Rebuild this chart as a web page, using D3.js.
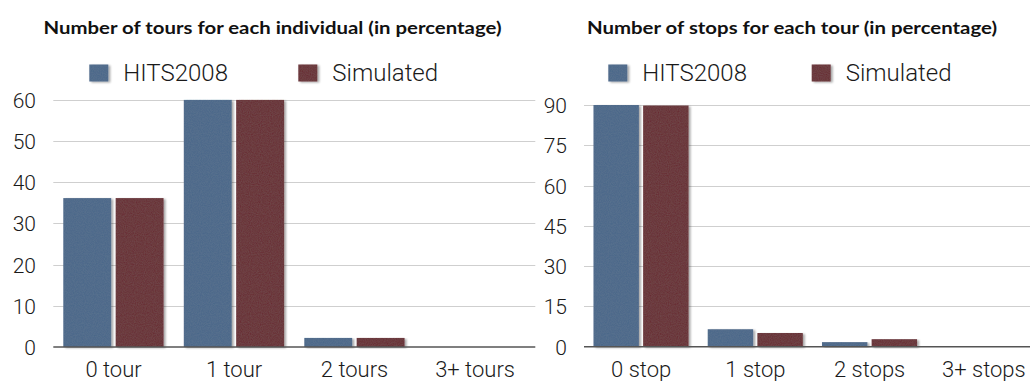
<!DOCTYPE html>
<html>
<head>
<meta charset="utf-8">
<script src="https://cdn.jsdelivr.net/npm/d3@7"></script>
<style>
  html, body { margin: 0; padding: 0; background: #fff; }
  svg { display: block; }
  .tick-label, .cat-label, .legend-label { font-family: Roboto, "Liberation Sans", sans-serif; font-weight: 300; fill: #1a1a1a; }
  .title { font-family: Lato, "Open Sans", sans-serif; font-weight: 700; fill: #111; }
</style>
</head>
<body>
<svg id="chart" width="1030" height="381"></svg>
<script>
// Series names and colours
const seriesNames = ["HITS2008", "Simulated"];
const seriesColors = ["#4a6689", "#682a32"];

// Tours per individual (%)
const tourCategories = ["0 tour", "1 tour", "2 tours", "3+ tours"];
const tourHits = [36.1, 59.9, 2.2, 0];
const tourSim = [36.1, 59.9, 2.2, 0];
const tourTicks = [0, 10, 20, 30, 40, 50, 60];

// Stops per tour (%)
const stopCategories = ["0 stop", "1 stop", "2 stops", "3+ stops"];
const stopHits = [90, 6.5, 1.7, 0];
const stopSim = [89.8, 5.1, 2.8, 0];
const stopTicks = [0, 15, 30, 45, 60, 75, 90];

const svg = d3.select("#chart");

// Bar shadow and paper grain
const defs = svg.append("defs");
const f = defs.append("filter").attr("id", "barfx")
  .attr("x", "-10%").attr("y", "-10%").attr("width", "130%").attr("height", "130%");
f.append("feTurbulence").attr("type", "fractalNoise").attr("baseFrequency", 0.9)
  .attr("numOctaves", 2).attr("seed", 3).attr("result", "noise");
f.append("feColorMatrix").attr("in", "noise").attr("type", "matrix")
  .attr("values", "0 0 0 0 0.5  0 0 0 0 0.6  0 0 0 0 0.55  0 0 0 0.08 0").attr("result", "grain");
f.append("feComposite").attr("in", "grain").attr("in2", "SourceGraphic").attr("operator", "in").attr("result", "grainIn");
f.append("feMerge").call(m => {
  m.append("feMergeNode").attr("in", "SourceGraphic");
  m.append("feMergeNode").attr("in", "grainIn");
}).attr("result", "textured");
f.append("feGaussianBlur").attr("in", "SourceAlpha").attr("stdDeviation", 1.2).attr("result", "blur");
f.append("feOffset").attr("in", "blur").attr("dx", 1.5).attr("dy", 1).attr("result", "off");
f.append("feComponentTransfer").attr("in", "off").attr("result", "shadow")
  .append("feFuncA").attr("type", "linear").attr("slope", 0.35);
f.append("feMerge").call(m => {
  m.append("feMergeNode").attr("in", "shadow");
  m.append("feMergeNode").attr("in", "textured");
});

function drawPanel(cfg) {
  const g = svg.append("g");
  const x = d3.scaleBand().domain(cfg.categories).range([cfg.left, cfg.right]);
  const inner = d3.scaleBand().domain(seriesNames)
    .range([x.bandwidth() * 0.083, x.bandwidth() * 0.915]).paddingInner(0.085);
  const y = d3.scaleLinear().domain([0, d3.max(cfg.ticks)]).range([cfg.bottom, cfg.top]);

  // Gridlines
  g.append("g").selectAll("line").data(cfg.ticks.filter(t => t > 0)).join("line")
    .attr("x1", cfg.left).attr("x2", cfg.gridEnd)
    .attr("y1", d => Math.round(y(d)) + 0.5).attr("y2", d => Math.round(y(d)) + 0.5)
    .attr("stroke", "#cfcfcf").attr("stroke-width", 1);

  // Tick labels
  g.append("g").selectAll("text").data(cfg.ticks).join("text")
    .attr("class", "tick-label")
    .attr("x", cfg.labelX).attr("y", d => y(d) + 8)
    .attr("text-anchor", "end").attr("font-size", 21)
    .text(d => d);

  // Bars
  const rows = cfg.categories.map((c, i) => ({ cat: c, vals: [cfg.hits[i], cfg.sim[i]] }));
  const groups = g.append("g").selectAll("g").data(rows).join("g")
    .attr("transform", d => `translate(${x(d.cat)},0)`);
  groups.selectAll("rect")
    .data(d => d.vals.map((v, k) => ({ v, s: seriesNames[k], k })).filter(d => d.v > 0))
    .join("rect")
    .attr("x", d => inner(d.s)).attr("width", inner.bandwidth())
    .attr("y", d => y(d.v)).attr("height", d => y(0) - y(d.v))
    .attr("fill", d => seriesColors[d.k])
    .attr("filter", "url(#barfx)");

  // Baseline
  g.append("line")
    .attr("x1", cfg.left).attr("x2", cfg.gridEnd)
    .attr("y1", y(0)).attr("y2", y(0))
    .attr("stroke", "#555").attr("stroke-width", 1.6);

  // Category labels
  g.append("g").selectAll("text").data(cfg.categories).join("text")
    .attr("class", "cat-label")
    .attr("x", d => x(d) + x.bandwidth() / 2).attr("y", 377)
    .attr("text-anchor", "middle").attr("font-size", 22)
    .text(d => d);

  // Title
  g.append("text").attr("class", "title")
    .attr("x", cfg.titleX).attr("y", 33.5).attr("font-size", 16.5)
    .attr("textLength", cfg.titleWidth).attr("lengthAdjust", "spacingAndGlyphs")
    .text(cfg.title);

  // Legend
  const leg = g.append("g").selectAll("g").data(seriesNames).join("g")
    .attr("transform", (d, i) => `translate(${cfg.legendX[i]},0)`);
  leg.append("rect").attr("x", 0).attr("y", 64.5).attr("width", 19).attr("height", 17)
    .attr("fill", (d, i) => seriesColors[i]).attr("filter", "url(#barfx)");
  leg.append("text").attr("class", "legend-label")
    .attr("x", 34).attr("y", 81).attr("font-size", 24)
    .text(d => d);
}

drawPanel({
  categories: tourCategories, hits: tourHits, sim: tourSim, ticks: tourTicks,
  left: 53.3, right: 535.3, gridEnd: 535.3, top: 99.5, bottom: 347,
  labelX: 36, titleX: 43.5, titleWidth: 458, legendX: [89.3, 298.3],
  title: "Number of tours for each individual (in percentage)"
});

drawPanel({
  categories: stopCategories, hits: stopHits, sim: stopSim, ticks: stopTicks,
  left: 584, right: 1041, gridEnd: 1041, top: 105, bottom: 346.7,
  labelX: 567, titleX: 587, titleWidth: 410, legendX: [608.3, 811.7],
  title: "Number of stops for each tour (in percentage)"
});
</script>
</body>
</html>
